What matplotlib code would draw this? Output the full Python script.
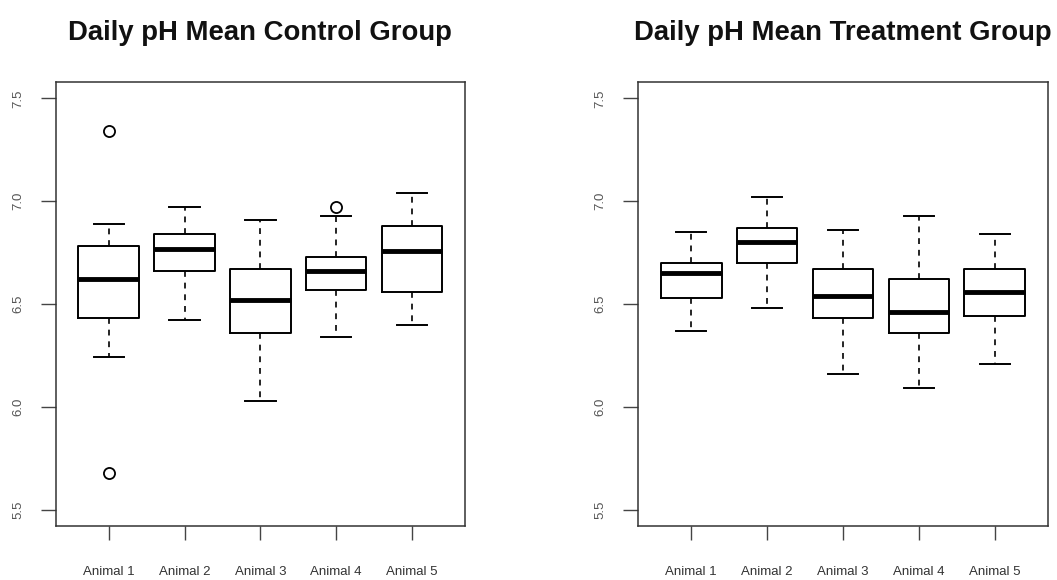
import matplotlib
matplotlib.use("Agg")
import matplotlib.pyplot as plt

plt.rcParams['font.family'] = ['Liberation Sans', 'DejaVu Sans']

labels = ["Animal 1", "Animal 2", "Animal 3", "Animal 4", "Animal 5"]
yticks = [5.5, 6.0, 6.5, 7.0, 7.5]

ctrl_med = [6.62, 6.77, 6.52, 6.66, 6.76]
ctrl_q1 = [6.43, 6.66, 6.36, 6.57, 6.56]
ctrl_q3 = [6.78, 6.84, 6.67, 6.73, 6.88]
ctrl_lo = [6.24, 6.42, 6.03, 6.34, 6.40]
ctrl_hi = [6.89, 6.97, 6.91, 6.93, 7.04]
ctrl_fliers = [[7.34, 5.68], [], [], [6.97], []]

treat_med = [6.65, 6.80, 6.54, 6.46, 6.56]
treat_q1 = [6.53, 6.70, 6.43, 6.36, 6.44]
treat_q3 = [6.70, 6.87, 6.67, 6.62, 6.67]
treat_lo = [6.37, 6.48, 6.16, 6.09, 6.21]
treat_hi = [6.85, 7.02, 6.86, 6.93, 6.84]
treat_fliers = [[], [], [], [], []]

titles = ["Daily pH Mean Control Group", "Daily pH Mean Treatment Group"]


def make_stats(med, q1, q3, lo, hi, fl):
    return [dict(med=m, q1=a, q3=b, whislo=l, whishi=h, fliers=f, label=lab)
            for m, a, b, l, h, f, lab in zip(med, q1, q3, lo, hi, fl, labels)]


fig = plt.figure(figsize=(10.57, 5.80), dpi=100)
ax1 = fig.add_axes([55.7 / 1057, 1 - 526 / 580, 409.3 / 1057, 444 / 580])
ax2 = fig.add_axes([638 / 1057, 1 - 526 / 580, 410 / 1057, 444 / 580])

groups = [
    make_stats(ctrl_med, ctrl_q1, ctrl_q3, ctrl_lo, ctrl_hi, ctrl_fliers),
    make_stats(treat_med, treat_q1, treat_q3, treat_lo, treat_hi, treat_fliers),
]

for ax, stats, title in zip([ax1, ax2], groups, titles):
    ax.bxp(stats, positions=[1, 2, 3, 4, 5], widths=0.8, capwidths=0.4,
           showfliers=True, patch_artist=False,
           boxprops=dict(color='black', linewidth=1.4),
           medianprops=dict(color='black', linewidth=3.5, solid_capstyle='butt'),
           whiskerprops=dict(color='black', linewidth=1.2, linestyle=(0, (3.5, 3.5))),
           capprops=dict(color='black', linewidth=1.4),
           flierprops=dict(marker='o', markerfacecolor='white',
                           markeredgecolor='black', markersize=8,
                           markeredgewidth=1.3, linestyle='none'))
    ax.set_xlim(0.3, 5.7)
    ax.set_ylim(5.42, 7.58)
    ax.set_yticks(yticks)
    ax.set_yticklabels([f"{v:.1f}" for v in yticks], rotation=90, va='center',
                       fontsize=9.5, color='#555555')
    ax.set_xticks([1, 2, 3, 4, 5])
    ax.set_xticklabels(labels, fontsize=9.5, color='#333333')
    ax.tick_params(axis='y', length=10.5, width=1.0, color='#444444', pad=12)
    ax.tick_params(axis='x', length=10, width=1.0, color='#444444', pad=19)
    for sp in ax.spines.values():
        sp.set_linewidth(1.1)
        sp.set_color('#333333')
    ax.set_title(title, fontsize=19.8, fontweight='bold', pad=30, color='#111111')

fig.savefig("out.png", dpi=100, facecolor='white')
